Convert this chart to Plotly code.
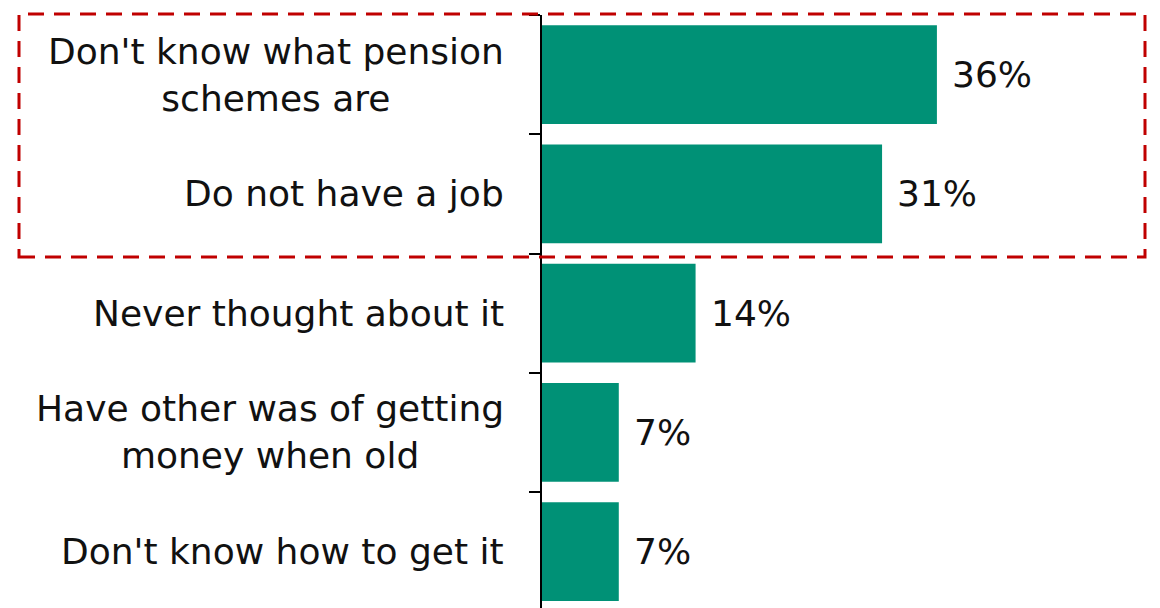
import plotly.graph_objects as go

# Reasons for not having a pension scheme (share of respondents, %)
reasons = [
    "Don't know what pension<br>schemes are",
    "Do not have a job",
    "Never thought about it",
    "Have other was of getting<br>money when old",
    "Don't know how to get it",
]
shares = [36, 31, 14, 7, 7]
value_labels = [f"{v}%" for v in shares]

BAR_COLOR = "#009176"
FONT = "DejaVu Sans"
FONT_SIZE = 36

W, H = 1160, 608
LEFT, TOP = 542, 15
PX_PER_PCT = 10.97
PLOT_W = W - LEFT
BAND = 119.25
PLOT_H = H - TOP


def px_to_paper_x(px):
    return (px - LEFT) / PLOT_W


def px_to_paper_y(py):
    return 1 - (py - TOP) / PLOT_H


fig = go.Figure()
fig.add_trace(go.Bar(
    x=shares,
    y=list(range(len(reasons))),
    orientation="h",
    marker=dict(color=BAR_COLOR, line=dict(width=0)),
    width=0.83,
    hoverinfo="skip",
))

# Category labels: right-aligned block, centred lines
for i, name in enumerate(reasons):
    fig.add_annotation(
        x=0, xref="paper", xanchor="right", xshift=-36,
        y=i, yref="y", yanchor="middle",
        text=name, showarrow=False, align="center",
        font=dict(family=FONT, size=FONT_SIZE, color="#111111"),
    )

# Value labels just past the end of each bar
for i, (v, lab) in enumerate(zip(shares, value_labels)):
    fig.add_annotation(
        x=v, xref="x", xanchor="left", xshift=13,
        y=i, yref="y", yanchor="middle",
        text=lab, showarrow=False,
        font=dict(family=FONT, size=FONT_SIZE, color="#111111"),
    )

# Dashed highlight around the two leading reasons
fig.add_shape(
    type="rect", xref="paper", yref="paper",
    x0=px_to_paper_x(19), x1=px_to_paper_x(1145),
    y0=px_to_paper_y(257), y1=px_to_paper_y(14),
    line=dict(color="#C00000", width=3, dash="16px,10px"),
    fillcolor="rgba(0,0,0,0)", layer="above",
)

fig.update_layout(
    width=W, height=H,
    margin=dict(l=LEFT, r=0, t=TOP, b=0, pad=0),
    paper_bgcolor="white", plot_bgcolor="white",
    showlegend=False,
    xaxis=dict(
        range=[0, PLOT_W / PX_PER_PCT],
        visible=False, showgrid=False, zeroline=False,
    ),
    yaxis=dict(
        range=[-0.5 + PLOT_H / BAND, -0.5],
        tickmode="array",
        tickvals=[i - 0.5 for i in range(len(reasons) + 1)],
        ticktext=[""] * (len(reasons) + 1),
        ticks="outside", ticklen=11, tickwidth=1.5, tickcolor="black",
        showline=True, linecolor="black", linewidth=1.5,
        showgrid=False, zeroline=False,
    ),
)

fig.write_html("out.html")
